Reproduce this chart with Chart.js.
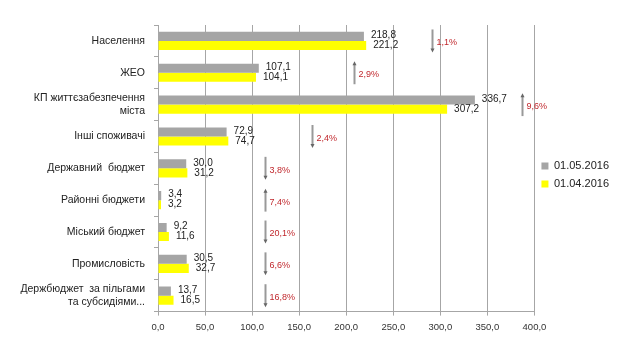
<!DOCTYPE html>
<html>
<head>
<meta charset="utf-8">
<script src="https://cdn.jsdelivr.net/npm/chart.js@4/dist/chart.umd.min.js"></script>
<style>
  html, body { margin: 0; padding: 0; background: #fff; }
  #wrap { width: 623px; height: 353px; }
</style>
</head>
<body>
<div id="wrap"><canvas id="c"></canvas></div>
<script>
// categories (top to bottom)
const categories = [
  'Населення',
  'ЖЕО',
  ['КП життєзабезпечення', 'міста'],
  'Інші споживачі',
  'Державний  бюджет',
  'Районні бюджети',
  'Міський бюджет',
  'Промисловість',
  ['Держбюджет  за пільгами', 'та субсидіями...']
];
const may2016 = [218.8, 107.1, 336.7, 72.9, 30.0, 3.4, 9.2, 30.5, 13.7];
const apr2016 = [221.2, 104.1, 307.2, 74.7, 31.2, 3.2, 11.6, 32.7, 16.5];
const changePct = ['1,1%', '2,9%', '9,6%', '2,4%', '3,8%', '7,4%', '20,1%', '6,6%', '16,8%'];
const xTicks = [0, 50, 100, 150, 200, 250, 300, 350, 400];

const GRAY = '#a5a5a5';
const YELLOW = '#ffff00';
const FONT = 'Liberation Sans';

// where the change arrows sit (in axis units)
const arrowAt = [291, 208, 387, 164, 114, 114, 114, 114, 114];

const fmt = v => v.toFixed(1).replace('.', ',');

// value labels at bar ends + change arrows with percentages
const annotate = {
  id: 'annotate',
  afterLayout(chart) {
    // lift the legend a little above the vertical centre
    chart.legend.bottom -= 14;
  },
  afterDatasetsDraw(chart) {
    const ctx = chart.ctx;
    const xs = chart.scales.x, ys = chart.scales.y;
    ctx.save();
    ctx.font = '10px "Liberation Sans Narrow", ' + FONT;
    ctx.fillStyle = '#222';
    ctx.textBaseline = 'middle';
    ctx.textAlign = 'left';
    chart.data.datasets.forEach((ds, di) => {
      chart.getDatasetMeta(di).data.forEach((bar, i) => {
        ctx.fillText(fmt(ds.data[i]), bar.x + 7, bar.y + (di === 0 ? -1 : 0));
      });
    });
    const band = ys.getPixelForValue(1) - ys.getPixelForValue(0);
    categories.forEach((c, i) => {
      const up = may2016[i] > apr2016[i];
      const x = Math.round(xs.getPixelForValue(arrowAt[i])) + 0.5;
      const yc = ys.getPixelForValue(i);
      const y0 = yc - band * 0.36, y1 = yc + band * 0.36;
      ctx.strokeStyle = '#999';
      ctx.fillStyle = '#666';
      ctx.lineWidth = 2;
      ctx.beginPath();
      ctx.moveTo(x, up ? y0 + 3 : y0); ctx.lineTo(x, up ? y1 : y1 - 3); ctx.stroke();
      const tip = up ? y0 : y1;
      const d = up ? 4 : -4;
      ctx.beginPath();
      ctx.moveTo(x, tip); ctx.lineTo(x - 2, tip + d); ctx.lineTo(x + 2, tip + d);
      ctx.closePath(); ctx.fill();
      ctx.fillStyle = '#c0282d';
      ctx.font = '9px ' + FONT;
      ctx.fillText(changePct[i], x + 4, yc + 2);
    });
    ctx.restore();
  }
};

new Chart(document.getElementById('c'), {
  type: 'bar',
  data: {
    labels: categories,
    datasets: [
      { label: '01.05.2016', data: may2016, backgroundColor: GRAY },
      { label: '01.04.2016', data: apr2016, backgroundColor: YELLOW }
    ]
  },
  options: {
    indexAxis: 'y',
    responsive: true,
    maintainAspectRatio: false,
    animation: false,
    categoryPercentage: 0.57,
    barPercentage: 1,
    layout: { padding: { top: 25, right: 4, bottom: 14, left: 0 } },
    plugins: {
      legend: {
        position: 'right',
        labels: {
          font: { family: FONT, size: 11 },
          color: '#222',
          boxWidth: 7,
          boxHeight: 7,
          padding: 7
        }
      },
      tooltip: { enabled: false }
    },
    scales: {
      x: {
        min: 0,
        max: 400,
        afterBuildTicks: axis => { axis.ticks = xTicks.map(v => ({ value: v })); },
        ticks: {
          callback: v => fmt(v),
          font: { family: FONT, size: 9.5 },
          color: '#333',
          padding: 6,
          maxRotation: 0
        },
        grid: { color: '#a6a6a6', tickLength: 4 },
        border: { color: '#a6a6a6' }
      },
      y: {
        afterFit: axis => { axis.width = 158; },
        ticks: {
          font: { family: FONT, size: 10.5 },
          color: '#222',
          padding: 9,
          autoSkip: false
        },
        grid: { drawOnChartArea: false, color: '#a6a6a6', tickLength: 4 },
        border: { color: '#a6a6a6' }
      }
    }
  },
  plugins: [annotate]
});
</script>
</body>
</html>
